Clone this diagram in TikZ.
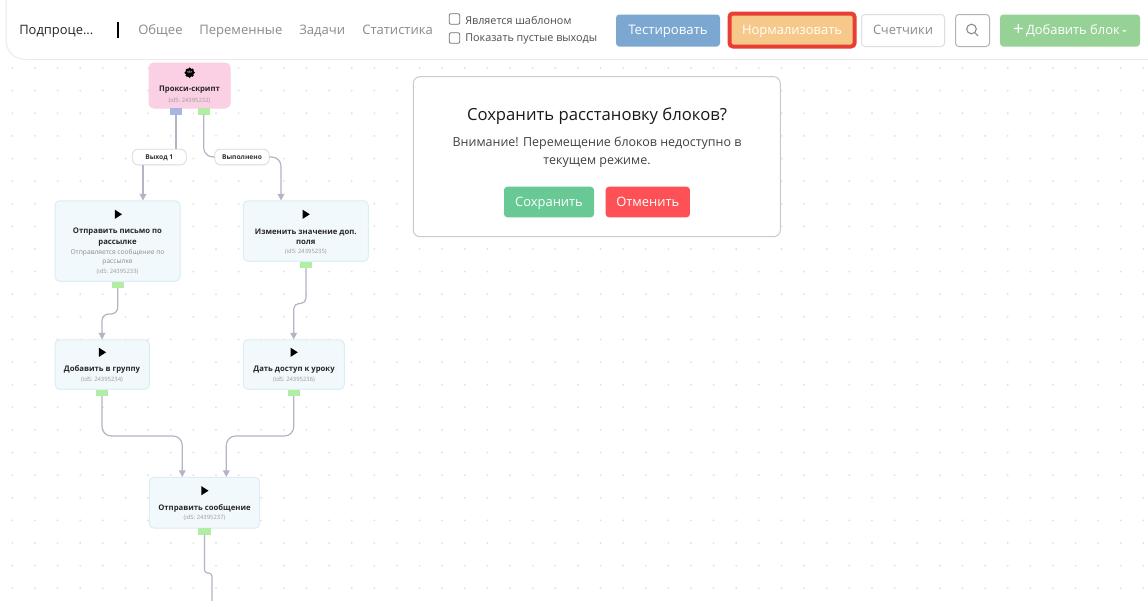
\documentclass[tikz,border=0pt]{standalone}
\usepackage{fontspec}
\setmainfont{Open Sans}
\usepackage{tikz}
\usetikzlibrary{arrows.meta}

\definecolor{wirec}{HTML}{B4B4C4}
\definecolor{dotc}{HTML}{E2E2E2}
\definecolor{tabc}{HTML}{8A8A8A}
\definecolor{boxc}{HTML}{F2F9FC}
\definecolor{boxl}{HTML}{DCEDF4}
\definecolor{pinkc}{HTML}{FBCFE4}
\definecolor{portg}{HTML}{B2EDA6}
\definecolor{portb}{HTML}{A9B5E2}
\definecolor{rimc}{HTML}{C9C9D3}

\tikzset{
  sized/.style 2 args={minimum width=#1*0.75pt,minimum height=#2*0.75pt},
  block/.style={draw=boxl,fill=boxc,line width=0.75pt,rounded corners=3.5pt,inner sep=0pt,outer sep=0pt},
  port/.style={inner sep=0pt,outer sep=0pt},
  wire/.style={draw=wirec,line width=0.9pt,rounded corners=7pt},
  arrowed/.style={wire,-{Triangle[length=5pt,width=5pt]}},
  tag/.style={draw=rimc!70,fill=white,line width=0.6pt,rounded corners=4.5pt,inner sep=0pt,outer sep=0pt,font=\fontsize{5}{7}\selectfont\bfseries,text=black!80,text height=4pt,text depth=1pt},
  title/.style={inner sep=0pt,align=center,font=\fontsize{5.8}{7.7}\selectfont\bfseries,text=black!85},
  descr/.style={inner sep=0pt,align=center,font=\fontsize{5}{6.8}\selectfont,text=black!45},
  idtext/.style={inner sep=0pt,font=\fontsize{4.4}{5}\selectfont,text=black!40},
  tab/.style={inner sep=0pt,anchor=base west,font=\fontsize{9.8}{12}\selectfont,text=tabc},
  check/.style={draw=black!55,fill=white,line width=0.6pt,rounded corners=1.5pt,inner sep=0pt,outer sep=0pt,minimum width=8pt,minimum height=8pt},
  checktext/.style={inner sep=0pt,anchor=west,font=\fontsize{8.1}{10}\selectfont,text=black!70},
  button/.style={rounded corners=2.5pt,inner sep=0pt,outer sep=0pt,text=white,font=\fontsize{9.7}{12}\selectfont,text height=8pt,text depth=1.8pt},
}

\newcommand{\playmark}[2]{\fill[black] (#1-3.4,#2-4.6) -- (#1+3.8,#2) -- (#1-3.4,#2+4.6) -- cycle;}

\begin{document}
\begin{tikzpicture}[x=0.75pt,y=0.75pt,yscale=-1,xscale=1]
    \useasboundingbox (0,0) rectangle (1148,600);
    \fill[white] (0,0) rectangle (1148,600);

    % Dots
    \foreach \i in {0,...,50}
      \foreach \j in {0,...,23}
        \fill[dotc] (12.4+22.62*\i,68+22.62*\j) circle (0.8pt);

    % Header
    \draw[draw=black!8,fill=white,line width=0.75pt] (6,-2) -- (6,39) .. controls (6,52) and (14,59.5) .. (27,59.5) -- (1150,59.5);
    \node[inner sep=0pt,anchor=base west,font=\fontsize{9.7}{12}\selectfont,text=black!85] (subproc) at (19,34) {Подпроце...};
    \coordinate (sepT) at (118,22);
    \coordinate (sepB) at (118,38);
    \draw[black,line width=0.8pt] (sepT) -- (sepB);
    \node[tab] (tabA) at (138,34) {Общее};
    \node[tab] (tabB) at (199,34) {Переменные};
    \node[tab] (tabC) at (299,34) {Задачи};
    \node[tab] (tabD) at (362,34) {Статистика};
    \node[check] (chkA) at (454.5,19) {};
    \node[check] (chkB) at (454.5,38) {};
    \node[checktext] (chkTextA) at (465,20) {Является шаблоном};
    \node[checktext] (chkTextB) at (465,39) {Показать пустые выходы};

    % Buttons
    \node[button,sized={104}{32},fill={rgb,255:red,123;green,167;blue,209},font=\fontsize{9.9}{12}\selectfont] (btnTest) at (668,30.5) {Тестировать};
    \node[button,sized={125}{33},fill={rgb,255:red,246;green,201;blue,138},draw={rgb,255:red,232;green,62;blue,51},line width=3pt] (btnNorm) at (792,30) {Нормализовать};
    \node[button,sized={83}{32},draw=black!13,text=tabc,line width=0.75pt,fill=white] (btnCount) at (903,30.5) {Счетчики};
    \node[button,sized={34}{32},draw=black!30,line width=0.75pt,fill=white] (btnFind) at (972.5,30.5) {};
    \draw[tabc,line width=0.8pt] (971.5,29) circle (3.6pt);
    \draw[tabc,line width=0.8pt] (975,33) -- (978,36);
    \node[button,sized={140}{32},fill={rgb,255:red,150;green,210;blue,149}] (btnAdd) at (1070,30.5) {{\fontsize{14}{12}\selectfont\raisebox{-1pt}{+}}\,Добавить блок\,\raisebox{1.5pt}{\tikz\fill[white] (0,0) -- (3.6pt,0) -- (1.8pt,-2pt) -- cycle;}};

    % Blocks
    \node[block,draw=pinkc,fill=pinkc,sized={81}{45}] (proxy) at (189.5,85.5) {};
    \node[block,sized={125}{80.5}] (mail) at (117.5,241) {};
    \node[block,sized={125}{60.5}] (field) at (305.8,231) {};
    \node[block,sized={94.3}{49.5}] (group) at (102.2,364.5) {};
    \node[block,sized={101}{49.5}] (lesson) at (293.8,364.5) {};
    \node[block,sized={110.4}{50.7}] (message) at (204.5,502.7) {};

    % Ports
    \node[port,fill=portb,sized={12}{6.5},anchor=north] (proxyOut) at (176,108) {};
    \node[port,fill=portg,sized={12}{6.5},anchor=north] (proxyDone) at (203.7,108) {};
    \node[port,fill=portg,sized={12}{6.5},anchor=north] (mailOut) at (117.7,281.5) {};
    \node[port,fill=portg,sized={12}{6.5},anchor=north] (fieldOut) at (306,261.5) {};
    \node[port,fill=portg,sized={12}{6.5},anchor=north] (groupOut) at (102,389.5) {};
    \node[port,fill=portg,sized={12}{6.5},anchor=north] (lessonOut) at (293.8,389.5) {};
    \node[port,fill=portg,sized={12.5}{6.5},anchor=north] (messageOut) at (204.4,528) {};

    % Labels on wires
    \node[tag,sized={54}{15.7}] (tagOne) at (159.3,157) {Выход 1};
    \node[tag,sized={54.6}{15.7}] (tagDone) at (242,157) {Выполнено};

    % Entry points
    \coordinate (mailIn) at (143,200.5);
    \coordinate (fieldIn) at (281,200.5);
    \coordinate (groupIn) at (102,339.5);
    \coordinate (lessonIn) at (293.7,339.5);
    \coordinate (messageInA) at (182.3,477);
    \coordinate (messageInB) at (226.3,477);
    \coordinate (pageEnd) at (212,601);

    % Wires
    \draw[wire] (proxyOut.south) -- (proxyOut.south |- tagOne.north);
    \draw[arrowed] (tagOne.south -| mailIn) -- (mailIn);
    \draw[wire] (proxyDone.south) |- (tagDone.west);
    \draw[arrowed] (tagDone.east) -| (fieldIn);
    \draw[arrowed,rounded corners=5pt] (mailOut.south) -- ++(0,26) -| (groupIn);
    \draw[arrowed,rounded corners=4pt] (fieldOut.south) -- ++(0,35.5) -| (lessonIn);
    \draw[arrowed] (groupOut.south) -- ++(0,40) -| (messageInA);
    \draw[arrowed] (lessonOut.south) -- ++(0,40) -| (messageInB);
    \draw[wire,rounded corners=2.5pt] (messageOut.south) -- ++(0,38.5) -| (pageEnd);

    % Icons
    \foreach \a in {0,45,...,315}
      \fill[black] (189.7,72.7) ++(\a:3.6) circle (1.3pt);
    \fill[black] (189.7,72.7) circle (3.2pt);
    \node[inner sep=0pt,text=white,font=\fontsize{2.6}{3}\selectfont\bfseries] (gearText) at (189.7,72.7) {</>};
    \playmark{118.2}{214.3}
    \playmark{306}{214.3}
    \playmark{102.3}{352.3}
    \playmark{294}{352.3}
    \playmark{204.7}{490.7}

    % Text Node
    \node[title] (proxyTitle) at (189.5,90) {Прокси-скрипт};
    \node[idtext] (proxyId) at (189.5,100.5) {(idS: 24395232)};
    \node[title] (mailTitle) at (117.5,237) {Отправить письмо по\\рассылке};
    \node[descr] (mailDescr) at (117.5,257.5) {Отправляется сообщение по\\рассылке};
    \node[idtext] (mailId) at (117.5,272) {(idS: 24395233)};
    \node[title] (fieldTitle) at (305.8,237) {Изменить значение доп.\\поля};
    \node[idtext] (fieldId) at (305.8,251.8) {(idS: 24395235)};
    \node[title] (groupTitle) at (102,369.7) {Добавить в группу};
    \node[idtext] (groupId) at (102,380.2) {(idS: 24395234)};
    \node[title] (lessonTitle) at (294,369.7) {Дать доступ к уроку};
    \node[idtext] (lessonId) at (294,380.2) {(idS: 24395236)};
    \node[title] (messageTitle) at (204.5,508) {Отправить сообщение};
    \node[idtext] (messageId) at (204.5,518.2) {(idS: 24395237)};

    % Dialog
    \node[draw=rimc,fill=white,line width=0.75pt,rounded corners=5pt,sized={367}{160},inner sep=0pt] (dialog) at (596.8,156.7) {};
    \node[inner sep=0pt,font=\fontsize{12.5}{16}\selectfont,text=black!90] (dialogHead) at (597,116.3) {Сохранить расстановку блоков?};
    \node[inner sep=0pt,align=center,font=\fontsize{9.35}{13.5}\selectfont,text=black!75] (dialogText) at (597,151.8) {Внимание! Перемещение блоков недоступно в\\текущем режиме.};
    \node[button,sized={90}{30.6},fill={rgb,255:red,104;green,201;blue,148}] (btnSave) at (549,202) {Сохранить};
    \node[button,sized={84.3}{30.6},fill={rgb,255:red,253;green,81;blue,85}] (btnCancel) at (647.8,202) {Отменить};
\end{tikzpicture}
\end{document}
